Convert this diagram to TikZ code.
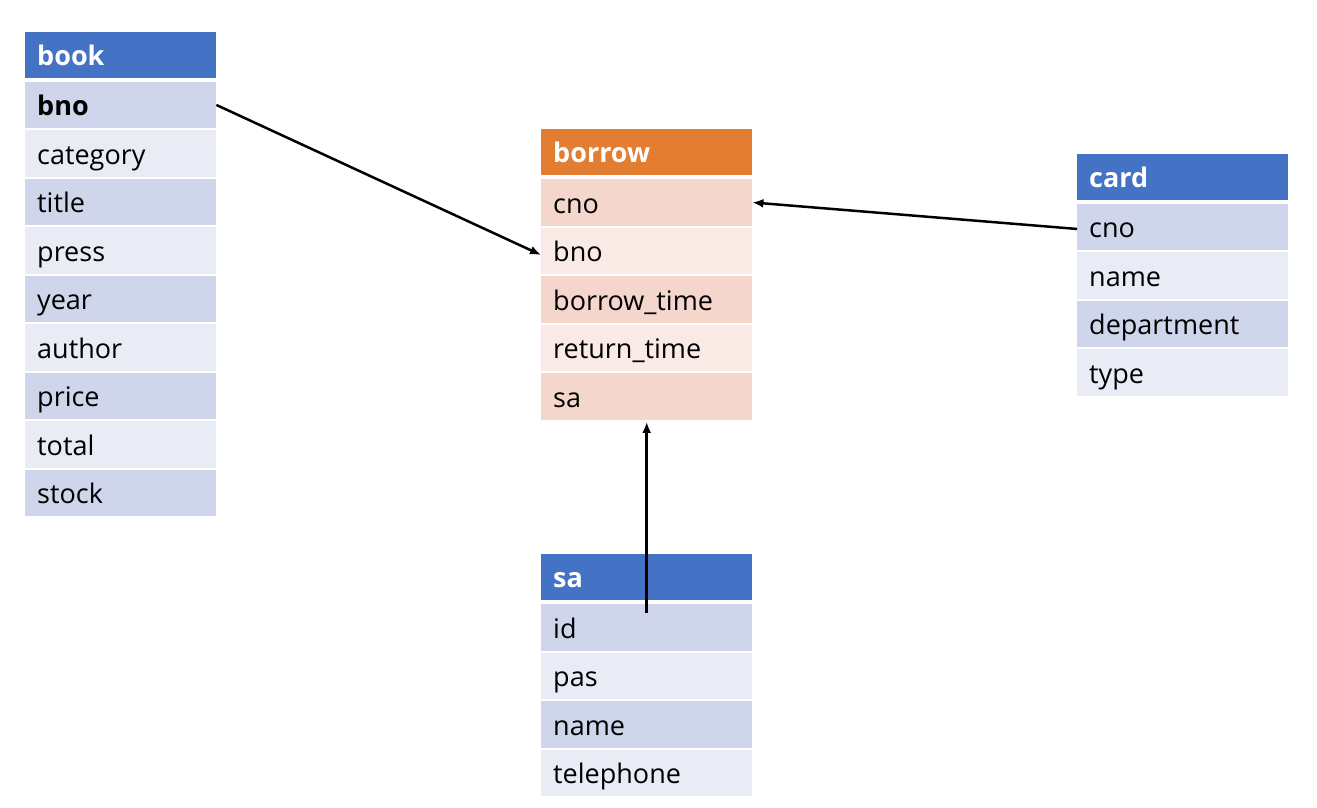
\documentclass[tikz,border=0pt]{standalone}
\usepackage{fontspec}
\setmainfont{Open Sans}
\usetikzlibrary{arrows.meta}
\definecolor{hblue}{HTML}{4472C4}
\definecolor{bluerowA}{HTML}{CFD5EA}
\definecolor{bluerowB}{HTML}{E9EBF5}
\definecolor{horange}{HTML}{E37D32}
\definecolor{orangerowA}{HTML}{F5D6CC}
\definecolor{orangerowB}{HTML}{FAEAE6}
\tikzset{
  cell/.style={anchor=north west, inner xsep=12pt, inner ysep=0pt,
    text height=22pt, text depth=0pt, align=left,
    font=\fontsize{27}{31}\selectfont},
  hdrcell/.style={cell, minimum height=45.5pt, text=white, font=\fontsize{27}{31}\selectfont\bfseries},
  rowcell/.style={cell, minimum height=46.5pt, text=black},
  narrowtab/.style={text width=167pt},
  widetab/.style={text width=187pt},
  bluerow1/.style={fill=bluerowA}, bluerow0/.style={fill=bluerowB},
  orangerow1/.style={fill=orangerowA}, orangerow0/.style={fill=orangerowB},
  conn/.style={line width=2.5pt, -{Latex[length=11pt,width=9pt]}}
}
\begin{document}
\begin{tikzpicture}[x=1pt,y=-1pt]
\useasboundingbox (0,0) rectangle (1317,807);
% book
\node[hdrcell, narrowtab, fill=hblue] (book-h) at (25,32) {book};
\foreach [count=\i] \t in {{\textbf{bno}},category,title,press,year,author,price,total,stock}{
  \pgfmathtruncatemacro\m{mod(\i,2)}
  \node[rowcell, narrowtab, bluerow\m] (book-\i) at (25,{81.5+(\i-1)*48.5}) {\t};
}
% borrow
\node[hdrcell, widetab, fill=horange] (borrow-h) at (541,129) {borrow};
\foreach [count=\i] \t in {cno,bno,borrow\_time,return\_time,sa}{
  \pgfmathtruncatemacro\m{mod(\i,2)}
  \node[rowcell, widetab, orangerow\m] (borrow-\i) at (541,{179+(\i-1)*48.5}) {\t};
}
% card
\node[hdrcell, widetab, fill=hblue] (card-h) at (1077,154) {card};
\foreach [count=\i] \t in {cno,name,department,type}{
  \pgfmathtruncatemacro\m{mod(\i,2)}
  \node[rowcell, widetab, bluerow\m] (card-\i) at (1077,{203.5+(\i-1)*48.5}) {\t};
}
% sa
\node[hdrcell, widetab, fill=hblue] (sa-h) at (541,554) {sa};
\foreach [count=\i] \t in {id,pas,name,telephone}{
  \pgfmathtruncatemacro\m{mod(\i,2)}
  \node[rowcell, widetab, bluerow\m] (sa-\i) at (541,{604+(\i-1)*48.5}) {\t};
}
% connectors
\draw[conn] (book-1.east) -- ([yshift=-4pt]borrow-2.west);
\draw[conn] ([yshift=-2pt]card-1.west) -- (borrow-1.east);
\draw[conn] ([yshift=-9pt]sa-1.north) -- ([yshift=-2pt]borrow-5.south);
\end{tikzpicture}
\end{document}
